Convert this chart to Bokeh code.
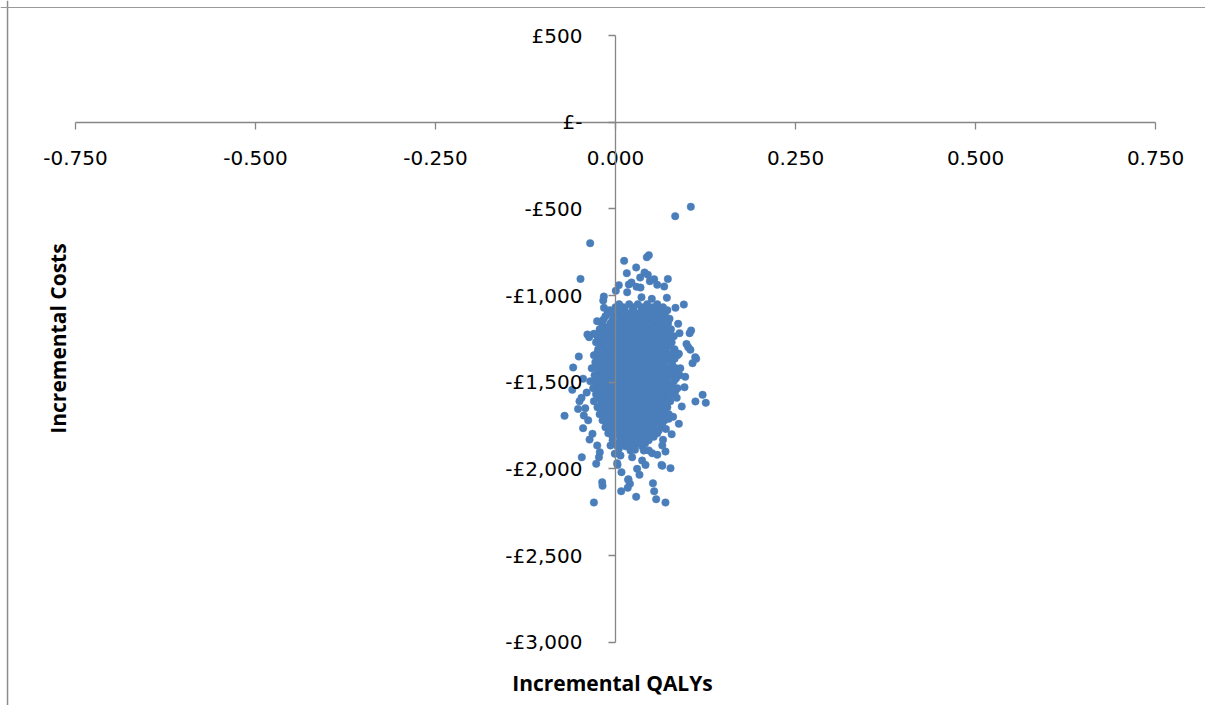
import math
from bokeh.plotting import figure
from bokeh.models import Range1d, FixedTicker, Span, Label
from bokeh.embed import file_html
from bokeh.resources import INLINE

# ---------------- data ----------------
x_ticks = [-0.75, -0.5, -0.25, 0.0, 0.25, 0.5, 0.75]
x_tick_labels = ["-0.750", "-0.500", "-0.250", "0.000", "0.250", "0.500", "0.750"]
y_ticks = [500, 0, -500, -1000, -1500, -2000, -2500, -3000]
y_tick_labels = ["£500", "£-", "-£500", "-£1,000", "-£1,500", "-£2,000", "-£2,500", "-£3,000"]

# dense core of the cloud: one cost level per row, with the QALY values seen along it
core_costs = [-1050, -1068, -1085, -1103, -1120, -1140, -1160, -1178, -1195, -1215,
              -1235, -1252, -1270, -1290, -1310, -1328, -1345, -1365, -1385, -1403,
              -1420, -1440, -1460, -1478, -1495, -1515, -1535, -1552, -1570, -1590,
              -1610, -1628, -1645, -1665, -1685, -1703, -1720, -1740, -1760, -1778,
              -1795, -1815, -1835, -1853, -1870]
core_qalys = [
    [0.005, 0.019, 0.031, 0.044, 0.058],
    [0.000, 0.011, 0.025, 0.038, 0.052, 0.066],
    [-0.008, 0.004, 0.013, 0.024, 0.036, 0.047, 0.061, 0.072],
    [-0.011, 0.001, 0.014, 0.022, 0.032, 0.044, 0.055, 0.065],
    [-0.014, -0.002, 0.009, 0.018, 0.027, 0.039, 0.050, 0.059, 0.069],
    [-0.017, -0.004, 0.007, 0.016, 0.026, 0.035, 0.046, 0.057, 0.067],
    [-0.019, -0.007, 0.003, 0.012, 0.022, 0.031, 0.041, 0.052, 0.062, 0.073],
    [-0.016, -0.006, 0.004, 0.013, 0.021, 0.031, 0.040, 0.050, 0.060, 0.071],
    [-0.022, -0.011, -0.001, 0.008, 0.017, 0.026, 0.036, 0.045, 0.055, 0.066, 0.077],
    [-0.018, -0.008, 0.003, 0.012, 0.021, 0.030, 0.039, 0.048, 0.057, 0.066, 0.075],
    [-0.025, -0.013, -0.004, 0.006, 0.015, 0.024, 0.033, 0.043, 0.052, 0.061, 0.071, 0.081],
    [-0.021, -0.010, 0.000, 0.008, 0.017, 0.026, 0.036, 0.045, 0.054, 0.063, 0.073],
    [-0.027, -0.016, -0.006, 0.003, 0.012, 0.021, 0.030, 0.040, 0.049, 0.058, 0.068, 0.078],
    [-0.020, -0.009, 0.001, 0.009, 0.018, 0.027, 0.036, 0.046, 0.055, 0.064, 0.075],
    [-0.024, -0.014, -0.004, 0.005, 0.014, 0.023, 0.032, 0.042, 0.051, 0.060, 0.070, 0.082],
    [-0.025, -0.014, -0.003, 0.006, 0.015, 0.024, 0.033, 0.042, 0.051, 0.061, 0.070, 0.080],
    [-0.030, -0.019, -0.009, 0.001, 0.010, 0.019, 0.028, 0.037, 0.046, 0.056, 0.065, 0.075, 0.086],
    [-0.024, -0.013, -0.003, 0.006, 0.015, 0.024, 0.034, 0.043, 0.052, 0.062, 0.072, 0.082],
    [-0.028, -0.017, -0.007, 0.002, 0.011, 0.020, 0.029, 0.039, 0.048, 0.057, 0.067, 0.078],
    [-0.025, -0.015, -0.005, 0.004, 0.013, 0.022, 0.031, 0.040, 0.050, 0.059, 0.068, 0.079],
    [-0.033, -0.021, -0.011, -0.002, 0.008, 0.017, 0.026, 0.035, 0.044, 0.054, 0.063, 0.073, 0.084],
    [-0.024, -0.013, -0.004, 0.006, 0.015, 0.024, 0.033, 0.042, 0.051, 0.061, 0.071, 0.082],
    [-0.029, -0.018, -0.008, 0.001, 0.010, 0.019, 0.028, 0.038, 0.047, 0.056, 0.066, 0.077, 0.089],
    [-0.026, -0.014, -0.004, 0.005, 0.014, 0.023, 0.033, 0.042, 0.051, 0.061, 0.071, 0.084],
    [-0.035, -0.023, -0.013, -0.003, 0.006, 0.015, 0.024, 0.033, 0.043, 0.052, 0.061, 0.071, 0.081],
    [-0.027, -0.016, -0.006, 0.003, 0.012, 0.021, 0.031, 0.040, 0.049, 0.059, 0.068, 0.078],
    [-0.031, -0.020, -0.010, -0.001, 0.008, 0.017, 0.026, 0.036, 0.045, 0.054, 0.064, 0.074, 0.086],
    [-0.024, -0.013, -0.004, 0.006, 0.015, 0.024, 0.033, 0.042, 0.052, 0.061, 0.072, 0.083],
    [-0.027, -0.016, -0.006, 0.003, 0.012, 0.021, 0.031, 0.040, 0.049, 0.059, 0.069, 0.080],
    [-0.024, -0.013, -0.003, 0.006, 0.015, 0.024, 0.034, 0.043, 0.052, 0.062, 0.072],
    [-0.030, -0.019, -0.009, 0.000, 0.009, 0.018, 0.027, 0.037, 0.046, 0.055, 0.065, 0.076],
    [-0.020, -0.009, 0.001, 0.010, 0.019, 0.028, 0.038, 0.047, 0.057, 0.068],
    [-0.025, -0.014, -0.004, 0.005, 0.014, 0.023, 0.033, 0.042, 0.051, 0.061, 0.072],
    [-0.018, -0.008, 0.002, 0.011, 0.020, 0.029, 0.039, 0.048, 0.058, 0.068],
    [-0.022, -0.011, -0.002, 0.007, 0.016, 0.025, 0.034, 0.044, 0.053, 0.063, 0.074],
    [-0.016, -0.006, 0.003, 0.012, 0.021, 0.031, 0.041, 0.050, 0.061, 0.071],
    [-0.018, -0.008, 0.002, 0.011, 0.020, 0.029, 0.039, 0.048, 0.058, 0.068],
    [-0.012, -0.002, 0.007, 0.016, 0.025, 0.034, 0.044, 0.054, 0.065],
    [-0.014, -0.004, 0.005, 0.014, 0.024, 0.033, 0.043, 0.052, 0.063],
    [-0.006, 0.004, 0.012, 0.021, 0.030, 0.040, 0.050, 0.060],
    [-0.010, 0.000, 0.010, 0.019, 0.028, 0.038, 0.047, 0.058],
    [-0.004, 0.006, 0.015, 0.024, 0.033, 0.043, 0.053],
    [-0.004, 0.007, 0.016, 0.026, 0.036, 0.046],
    [0.002, 0.012, 0.021, 0.031, 0.041],
    [0.003, 0.014, 0.025, 0.037],
]

# scattered simulations around the core
out_qalys = [0.1046, 0.0829, -0.0352, -0.0486, 0.0463, 0.0435, 0.0120, 0.0287, 0.0157, 0.0403,
             0.0449, 0.0343, 0.0537, 0.0727, 0.0477, 0.0222, 0.0185, 0.0046, 0.0579, 0.0676,
             0.0292, 0.0347, 0.0004, 0.0162, -0.0162, 0.0361, 0.0713, 0.0504, 0.0949, 0.0833,
             -0.0170, -0.0160, -0.0255, -0.0390, -0.0366, -0.0300, -0.0510, 0.1050, 0.1030, 0.0889,
             0.0986, 0.1010, 0.0870, 0.0750, 0.1107, 0.0880, 0.1210, 0.1254, 0.1110, -0.0588,
             -0.0472, 0.1120, 0.1070, 0.0968, 0.0958, 0.1040, -0.0708, -0.0600, -0.0468, -0.0300,
             -0.0185, -0.0180, -0.0268, 0.0083, 0.0079, 0.0176, 0.0200, 0.0287, 0.0520, 0.0537,
             0.0565, 0.0694, 0.0764, 0.0639, 0.0300, 0.0333, 0.0028, 0.0170, 0.0180, 0.0650,
             -0.0230, -0.0218, -0.0254, -0.0320, -0.0360, -0.0069, -0.0010, 0.0023, 0.0046, 0.0069,
             0.0208, 0.0231, 0.0270, 0.0370, 0.0417, 0.0393, 0.0463, 0.0510, 0.0580, 0.0694,
             0.0650, 0.0660, 0.0740, -0.0520, -0.0440, -0.0450, -0.0400, -0.0500, -0.0380, -0.0450,
             -0.0420, 0.0850, 0.0900, 0.0920, 0.0800, 0.0880, 0.0780, 0.0700]
out_costs = [-488, -542, -698, -904, -767, -779, -800, -838, -871, -867,
             -880, -896, -906, -904, -917, -925, -936, -940, -938, -948,
             -950, -954, -973, -981, -1006, -1010, -1013, -1019, -1052, -1071,
             -1029, -1071, -1148, -1225, -1240, -1221, -1352, -1202, -1217, -1217,
             -1279, -1298, -1163, -1134, -1356, -1336, -1573, -1619, -1611, -1415,
             -1590, -1365, -1390, -1469, -1529, -1313, -1694, -1544, -1933, -2194,
             -2077, -2098, -1971, -2019, -2129, -2063, -2086, -2161, -2083, -2129,
             -2175, -2194, -1996, -1977, -2000, -2034, -1977, -2109, -2060, -1982,
             -1933, -1904, -1865, -1798, -1831, -1865, -1913, -1967, -1884, -1923,
             -1894, -1933, -1890, -1952, -1977, -1894, -1894, -1910, -1919, -1900,
             -1865, -1832, -1711, -1654, -1692, -1480, -1560, -1610, -1720, -1765,
             -1650, -1590, -1420, -1640, -1700, -1740, -1800, -1770]

# ---------------- assemble ----------------
qalys = []
costs = []
for c, row in zip(core_costs, core_qalys):
    for q in row:
        qalys.append(q)
        costs.append(c)
qalys += out_qalys
costs += out_costs

W, H = 1205, 705
X0, X1 = -0.85417, 0.81944
Y0, Y1 = -3365.2, 702.1
p = figure(width=W, height=H, output_backend="svg", toolbar_location=None,
           x_range=Range1d(X0, X1), y_range=Range1d(Y0, Y1),
           min_border=0, min_border_left=0, min_border_right=0,
           min_border_top=0, min_border_bottom=0)
p.outline_line_color = None
p.background_fill_color = "white"
p.border_fill_color = "white"
p.xgrid.visible = False
p.ygrid.visible = False

p.scatter(qalys, costs, size=7.5, fill_color="#4a7ebb", line_color="#4a7ebb",
          line_width=0.5, marker="circle")

axis_color = "#868686"
for ax in (p.xaxis[0], p.yaxis[0]):
    ax.fixed_location = 0
    ax.axis_line_color = axis_color
    ax.axis_line_width = 1.3
    ax.major_tick_line_color = axis_color
    ax.major_tick_line_width = 1.3
    ax.major_tick_in = 0
    ax.major_tick_out = 7
    ax.minor_tick_line_color = None
    ax.major_label_text_font = "DejaVu Sans"
    ax.major_label_text_font_size = "20px"
    ax.major_label_text_color = "black"

p.xaxis.ticker = FixedTicker(ticks=x_ticks)
p.xaxis.major_label_overrides = {t: s for t, s in zip(x_ticks, x_tick_labels)}
p.xaxis.bounds = (x_ticks[0], x_ticks[-1])
p.xaxis.major_label_standoff = 22

p.yaxis.ticker = FixedTicker(ticks=y_ticks)
p.yaxis.major_label_overrides = {t: s for t, s in zip(y_ticks, y_tick_labels)}
p.yaxis.bounds = (y_ticks[-1], y_ticks[0])
p.yaxis.major_label_standoff = 26

# chart-area border (left and top visible in the window)
p.add_layout(Span(location=-0.8444, dimension="height", line_color="#8c8c8c", line_width=1.5))
p.add_layout(Span(location=661.7, dimension="width", line_color="#9a9a9a", line_width=1.2))

# axis titles
p.add_layout(Label(x=-0.0042, y=-3238, text="Incremental QALYs", text_align="center",
                   text_baseline="alphabetic", text_font="Open Sans", text_font_style="bold",
                   text_font_size="21px", text_color="black"))
p.add_layout(Label(x=-0.775, y=-1248, text="Incremental Costs", angle=math.pi / 2,
                   text_align="center", text_baseline="middle", text_font="Open Sans",
                   text_font_style="bold", text_font_size="21px", text_color="black"))

open("out.html", "w").write(file_html(p, INLINE))
